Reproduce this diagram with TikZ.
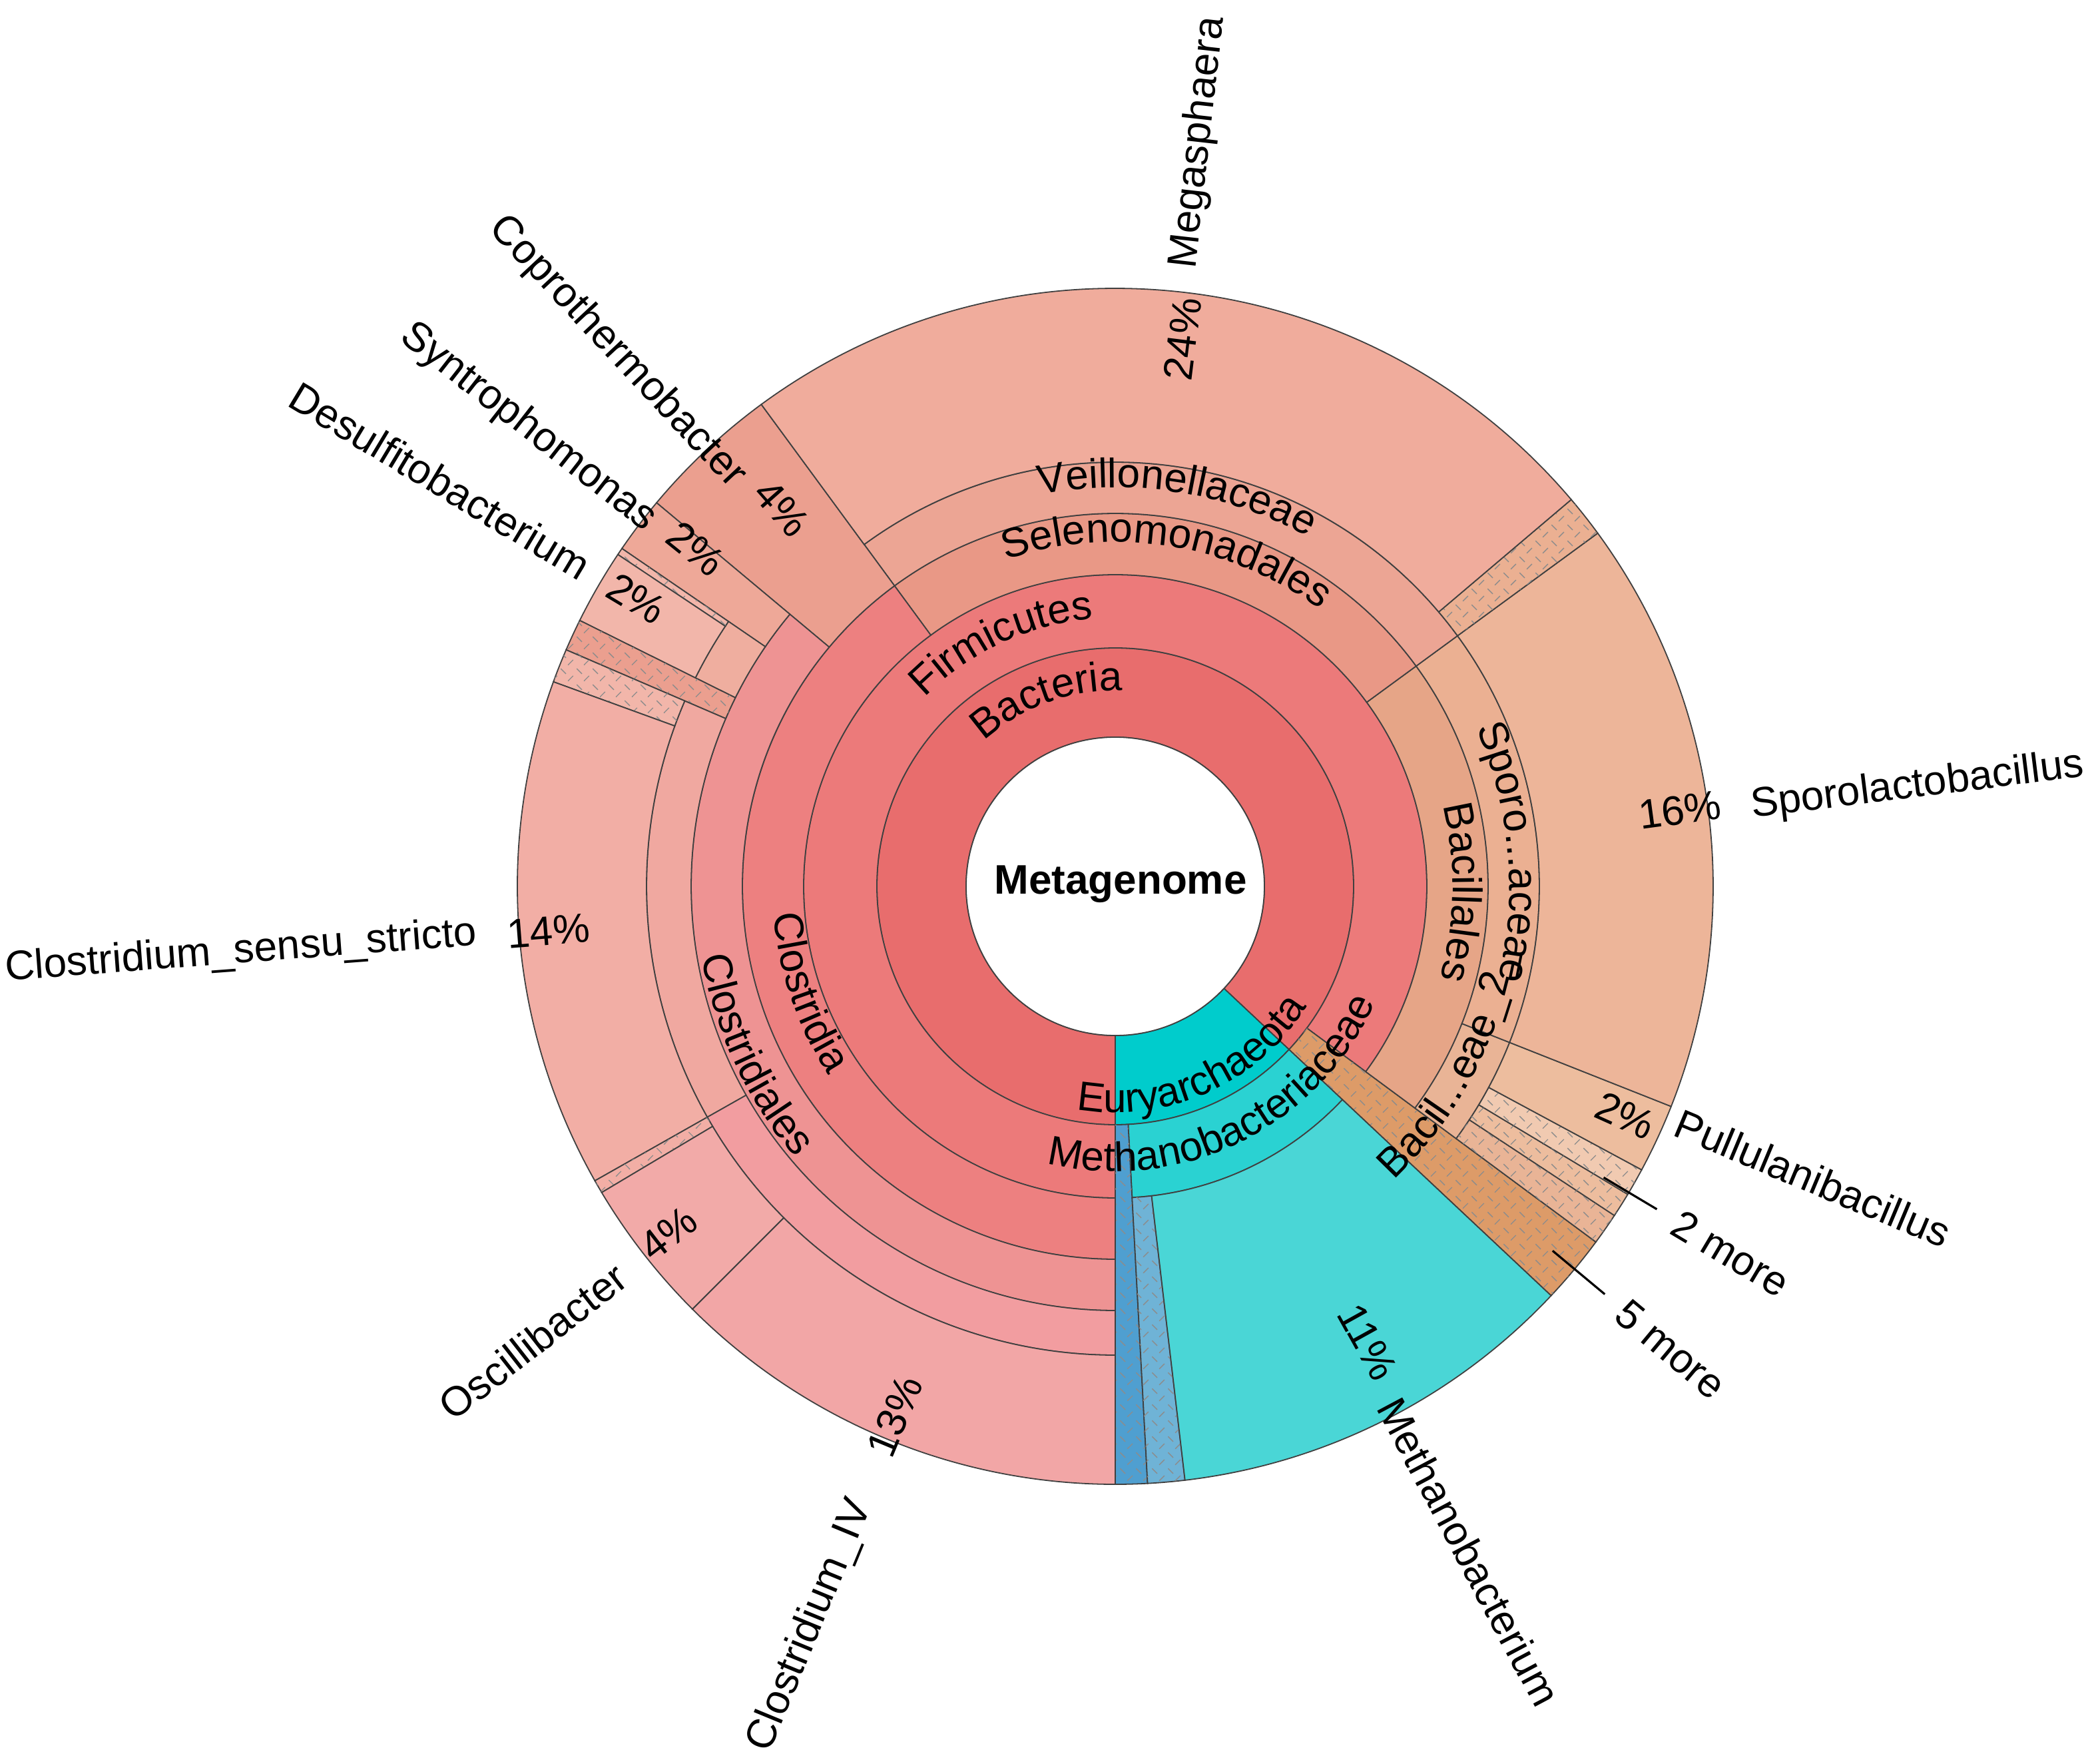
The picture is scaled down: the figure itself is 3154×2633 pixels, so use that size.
\documentclass[tikz,border=0pt]{standalone}
\usepackage{fontspec}
\setmainfont{Liberation Sans}
\usetikzlibrary{patterns,decorations.text}

\pgfdeclarepatternformonly{krona hatch}{\pgfqpoint{0pt}{0pt}}{\pgfqpoint{6pt}{6pt}}{\pgfqpoint{6pt}{6pt}}{%
  \pgfsetlinewidth{0.35pt}
  \pgfpathmoveto{\pgfqpoint{0.6pt}{5.4pt}}\pgfpathlineto{\pgfqpoint{2.6pt}{3.4pt}}
  \pgfpathmoveto{\pgfqpoint{3.4pt}{0.6pt}}\pgfpathlineto{\pgfqpoint{5.4pt}{2.6pt}}
  \pgfusepath{stroke}}

% colours of the taxa
\definecolor{bacteria}{HTML}{E86D6D}
\definecolor{firmicutes}{HTML}{EC7A7A}
\definecolor{clostridia}{HTML}{ED8080}
\definecolor{clostridiales}{HTML}{EE9393}
\definecolor{selenomonadales}{HTML}{E99886}
\definecolor{veillonellaceae}{HTML}{ECA594}
\definecolor{megasphaera}{HTML}{F0AC9C}
\definecolor{bacillales}{HTML}{E6A587}
\definecolor{sporoaceae}{HTML}{EBB092}
\definecolor{bacilaceae}{HTML}{E9B496}
\definecolor{sporolacto}{HTML}{EDB599}
\definecolor{pullulani}{HTML}{EDBD9E}
\definecolor{bactother}{HTML}{DD9B68}
\definecolor{coprotherm}{HTML}{EB9F8F}
\definecolor{syntropho}{HTML}{EEA898}
\definecolor{peptococ}{HTML}{EFAE9F}
\definecolor{desulfito}{HTML}{F2B6AA}
\definecolor{clostaceae}{HTML}{F0A8A0}
\definecolor{clostss}{HTML}{F2AEA5}
\definecolor{rumino}{HTML}{F29DA0}
\definecolor{oscilli}{HTML}{F2AAA8}
\definecolor{clostiv}{HTML}{F2A6A6}
\definecolor{euryarch}{HTML}{00CCCC}
\definecolor{methaceae}{HTML}{2AD2D2}
\definecolor{methbact}{HTML}{4AD6D6}
\definecolor{methdark}{HTML}{4F9FD0}
\definecolor{methlight}{HTML}{6FB3D6}

\newcommand{\labelfont}{\fontsize{15.5}{18}\selectfont}
% wedge: [options] start angle, end angle, inner radius, outer radius, colour
\newcommand{\kronawedge}[6][]{%
  \filldraw[wedge,fill=#6,#1] (#2:#4) arc[start angle=#2,end angle=#3,radius=#4]
    -- (#3:#5) arc[start angle=#3,end angle=#2,radius=#5] -- cycle;}
% curved label: start angle, end angle, radius, text
\newcommand{\arclabel}[4]{%
  \path[decorate,decoration={text along path,text align=center,text={|\labelfont|#4}}]
    (#1:#3) arc[start angle=#1,end angle=#2,radius=#3];}

\tikzset{
  wedge/.style={draw=black!75,line width=0.45pt},
  hatched/.style={postaction={pattern=krona hatch,pattern color=black!45}},
  taxon/.style={font=\labelfont,inner sep=1pt},
  pct/.style={font=\labelfont,inner sep=1pt},
}

\begin{document}
\begin{tikzpicture}[x=0.25pt,y=0.25pt]
\useasboundingbox (-1675,-1302) rectangle (1479,1331);

% ring 1
\kronawedge{-43.2}{270}{224}{358}{bacteria}
\kronawedge{-90}{-43.2}{224}{358}{euryarch}
% ring 2
\kronawedge{-36.5}{270}{358}{468}{firmicutes}
\kronawedge[hatched]{-43.2}{-36.5}{358}{898}{bactother}
\kronawedge{-86.9}{-43.2}{358}{468}{methaceae}
\kronawedge[hatched]{-90}{-86.9}{358}{898}{methdark}
\kronawedge[hatched]{-86.9}{-83.3}{468}{898}{methlight}
\kronawedge{-83.3}{-43.2}{468}{898}{methbact}
% ring 3
\kronawedge{-36.5}{36.2}{468}{560}{bacillales}
\kronawedge{36.2}{126.3}{468}{560}{selenomonadales}
\kronawedge{126.3}{270}{468}{560}{clostridia}
% ring 4
\kronawedge{-36.5}{-21.6}{560}{637}{bacilaceae}
\kronawedge{-21.6}{36.2}{560}{637}{sporoaceae}
\kronawedge{36.2}{126.3}{560}{637}{veillonellaceae}
\kronawedge{126.3}{140.1}{560}{898}{coprotherm}
\kronawedge{140.1}{270}{560}{637}{clostridiales}
% rings 5 and 6
\kronawedge[hatched]{-36.5}{-33.4}{637}{898}{bacilaceae}
\kronawedge[hatched]{-33.4}{-31}{637}{898}{pullulani}
\kronawedge[hatched]{-31}{-28.3}{637}{898}{pullulani!80!white}
\kronawedge{-28.3}{-21.6}{637}{898}{pullulani}
\kronawedge{-21.6}{36.2}{637}{898}{sporolacto}
\kronawedge[hatched]{36.2}{40.3}{637}{898}{sporoaceae}
\kronawedge{40.3}{126.3}{637}{898}{megasphaera}
\kronawedge{140.1}{145.6}{637}{898}{syntropho}
\kronawedge{145.6}{153.6}{637}{704}{peptococ}
\kronawedge[hatched]{145.6}{146.3}{704}{898}{desulfito}
\kronawedge{146.3}{153.6}{704}{898}{desulfito}
\kronawedge[hatched]{153.6}{156.7}{637}{898}{coprotherm}
\kronawedge{156.7}{209.5}{637}{704}{clostaceae}
\kronawedge[hatched]{156.7}{160}{704}{898}{desulfito}
\kronawedge{160}{209.5}{704}{898}{clostss}
\kronawedge{209.5}{270}{637}{704}{rumino}
\kronawedge[hatched]{209.5}{210.8}{704}{898}{clostss}
\kronawedge{210.8}{225}{704}{898}{oscilli}
\kronawedge{225}{270}{704}{898}{clostiv}
\filldraw[wedge,fill=white] (0,0) circle[radius=224];

% inner labels
\node[font=\bfseries\labelfont] (metagenome) at (8,3) {Metagenome};
\arclabel{160}{60}{294}{Bacteria}
\arclabel{165}{65}{403}{Firmicutes}
\arclabel{131}{31}{517}{Selenomonadales}
\arclabel{131}{31}{599}{Veillonellaceae}
\arclabel{40}{-42}{507}{Bacillales}
\arclabel{45}{-35}{592}{Sporo...aceae}
\arclabel{-78}{22}{608}{Bacil...eae{\_}2{\_}}
\arclabel{150}{248}{515}{Clostridia}
\arclabel{155}{255}{630}{Clostridiales}
\arclabel{-116}{-16}{340}{Euryarchaeota}
\arclabel{-116}{-12}{428}{Methanobacteriaceae}

% percentages
\node[pct,rotate=83] (pctMegasphaera) at (83:828) {24\%};
\node[pct,rotate=-48.6] (pctCopro) at (131.4:757) {4\%};
\node[pct,rotate=-38.8] (pctSyntropho) at (141.2:809) {2\%};
\node[pct,rotate=-31] (pctDesulfito) at (149:839) {2\%};
\node[pct,rotate=4.5] (pctClostss) at (184.5:854) {14\%};
\node[pct,rotate=37.8] (pctOscilli) at (217.8:850) {4\%};
\node[pct,rotate=67.4] (pctClostiv) at (247.4:862) {13\%};
\node[pct,rotate=-61] (pctMethbact) at (-61:782) {11\%};
\node[pct,rotate=-24.2] (pctPullulani) at (-24.2:840) {2\%};
\node[pct,rotate=7.7] (pctSporolacto) at (7.7:856) {16\%};

% taxon names
\node[taxon,rotate=83.6] (megasphaeraName) at (83.6:1124) {Megasphaera};
\node[taxon,rotate=-47] (coprothermName) at (133:1097) {Coprothermobacter};
\node[taxon,rotate=-38] (syntrophoName) at (142:1119) {Syntrophomonas};
\node[taxon,rotate=-31] (desulfitoName) at (149:1183) {Desulfitobacterium};
\node[taxon,rotate=4.3] (clostssName) at (184.3:1317) {Clostridium\_sensu\_stricto};
\node[taxon,rotate=38] (oscilliName) at (218:1110) {Oscillibacter};
\node[taxon,rotate=67.6] (clostivName) at (247.6:1201) {Clostridium\_IV};
\node[taxon,rotate=-62] (methbactName) at (-62:1132) {Methanobacterium};
\node[taxon,rotate=-22.7] (pullulaniName) at (-22.7:1136) {Pullulanibacillus};
\node[taxon,rotate=7.1] (sporolactoName) at (7.1:1214) {Sporolactobacillus};
\node[taxon,rotate=-30.8,anchor=west] (moreTwo) at (-30.8:975) {2 more};
\node[taxon,rotate=-39.8,anchor=west] (moreFive) at (-39.8:985) {5 more};
\coordinate (moreTwoTip) at (-30.8:854);
\coordinate (moreFiveTip) at (-39.8:855);
\draw[line width=0.8pt,shorten >=7pt] (moreTwoTip) -- (moreTwo.west);
\draw[line width=0.8pt,shorten >=7pt] (moreFiveTip) -- (moreFive.west);
\end{tikzpicture}
\end{document}
